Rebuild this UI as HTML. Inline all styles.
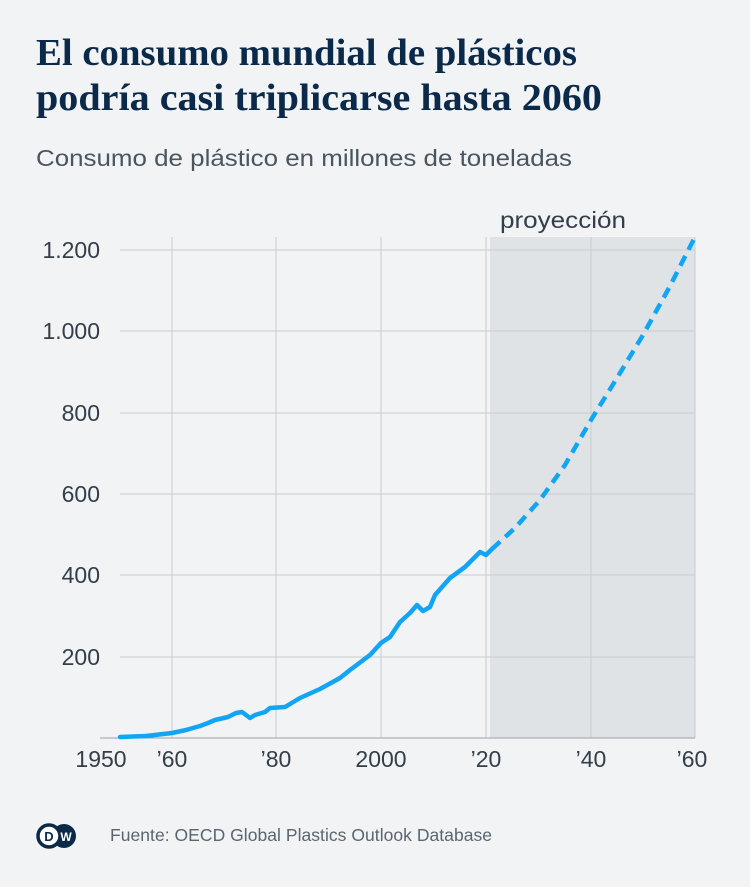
<!DOCTYPE html>
<html><head><meta charset="utf-8"><style>
body{margin:0;background:#f1f3f5;}
.t{font-family:"Liberation Serif",serif;}
.s{font-family:"Liberation Sans","DejaVu Sans",sans-serif;}
</style></head><body>
<svg width="750" height="882" xmlns="http://www.w3.org/2000/svg">
<rect width="750" height="882" fill="#f1f3f5"/>
<text x="36" y="65" class="t" font-size="38" font-weight="bold" fill="#0b2a4a" textLength="541" lengthAdjust="spacingAndGlyphs">El consumo mundial de plásticos</text>
<text x="36" y="110" class="t" font-size="38" font-weight="bold" fill="#0b2a4a" textLength="566" lengthAdjust="spacingAndGlyphs">podría casi triplicarse hasta 2060</text>
<text x="36" y="166" class="s" font-size="23" fill="#4a5560" textLength="536" lengthAdjust="spacingAndGlyphs">Consumo de plástico en millones de toneladas</text>
<rect x="490" y="237" width="205" height="501" fill="#e0e3e6"/>
<text x="500" y="228" class="s" font-size="23" fill="#333e48" textLength="126" lengthAdjust="spacingAndGlyphs">proyección</text>
<g stroke="#c8ccd1" stroke-width="1">
<line x1="120" y1="250" x2="695" y2="250"/>
<line x1="120" y1="331" x2="695" y2="331"/>
<line x1="120" y1="413" x2="695" y2="413"/>
<line x1="120" y1="494" x2="695" y2="494"/>
<line x1="120" y1="575" x2="695" y2="575"/>
<line x1="120" y1="657" x2="695" y2="657"/>
<line x1="172" y1="237" x2="172" y2="738"/>
<line x1="276" y1="237" x2="276" y2="738"/>
<line x1="381" y1="237" x2="381" y2="738"/>
<line x1="486" y1="237" x2="486" y2="738"/>
<line x1="591" y1="237" x2="591" y2="738"/>
<line x1="695" y1="237" x2="695" y2="738"/>
</g>
<line x1="100" y1="738" x2="695" y2="738" stroke="#9aa0a6" stroke-width="1"/>
<g class="s" font-size="23" fill="#333e48" text-anchor="end">
<text x="100" y="258">1.200</text><text x="100" y="339">1.000</text>
<text x="100" y="421">800</text><text x="100" y="502">600</text>
<text x="100" y="583">400</text><text x="100" y="665">200</text>
</g>
<g class="s" font-size="23" fill="#333e48" text-anchor="middle">
<text x="101" y="767">1950</text><text x="172" y="767">’60</text>
<text x="276" y="767">’80</text><text x="381" y="767">2000</text>
<text x="486" y="767">’20</text><text x="591" y="767">’40</text>
<text x="692" y="767">’60</text>
</g>
<polyline fill="none" stroke="#12a5f4" stroke-width="4.5" stroke-linejoin="round" stroke-linecap="round"
points="120,737 146,736 172,733 186,730 200,726 208,723 215,720 228,717 236,713 242,712 246,715 250,718 255,715 265,712 270,708 285,707 300,698 320,689 340,678 350,670 370,655 381,643 390,637 400,622 410,613 417,605 423,611 430,607 435,595 450,578 465,567 480,552 486,555 492,549"/>
<polyline fill="none" stroke="#12a5f4" stroke-width="4.5" stroke-dasharray="11,7" stroke-linecap="butt"
points="492,549 515,528 540,500 565,465 591,420 617,378 643,335 669,288 695,237"/>
<circle cx="64" cy="836" r="12" fill="#0b2a4a"/>
<circle cx="49" cy="836" r="11" fill="#fff" stroke="#0b2a4a" stroke-width="3.5"/>
<text x="49" y="841" class="s" font-size="13" font-weight="bold" fill="#0b2a4a" text-anchor="middle">D</text>
<text x="66" y="841" class="s" font-size="12" font-weight="bold" fill="#fff" text-anchor="middle">W</text>
<text x="110" y="841" class="s" font-size="17.5" fill="#5a6570" textLength="382" lengthAdjust="spacing">Fuente: OECD Global Plastics Outlook Database</text>
</svg>
</body></html>
